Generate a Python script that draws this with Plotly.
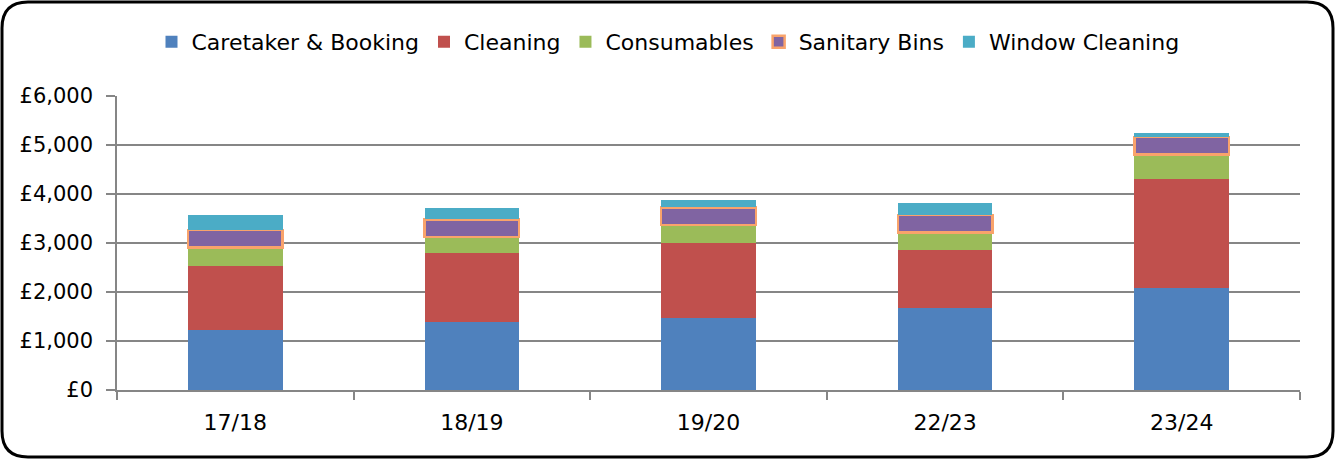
import plotly.graph_objects as go

years = ["17/18", "18/19", "19/20", "22/23", "23/24"]
caretaker = [1230, 1390, 1465, 1675, 2090]
cleaning = [1310, 1415, 1545, 1180, 2215]
consumables = [370, 315, 360, 360, 500]
sanitary = [360, 360, 355, 360, 360]
window = [310, 240, 155, 240, 80]
y_ticks = [0, 1000, 2000, 3000, 4000, 5000, 6000]
y_labels = ["£0", "£1,000", "£2,000", "£3,000", "£4,000", "£5,000", "£6,000"]

series = [
    ("Caretaker & Booking", caretaker, "#4F81BD", None),
    ("Cleaning", cleaning, "#C0504D", None),
    ("Consumables", consumables, "#9BBB59", None),
    ("Sanitary Bins", sanitary, "#8064A2", "#F9A36B"),
    ("Window Cleaning", window, "#4BACC6", None),
]

fig = go.Figure()
for name, vals, col, edge in series:
    fig.add_trace(go.Bar(
        name=name, x=years, y=vals,
        marker=dict(color=col,
                    line=dict(color=edge if edge else col, width=2.5 if edge else 0)),
        width=0.4,
    ))

W, H = 1337, 460
L, R, T, B = 117, 37, 96, 70
pw, ph = W - L - R, H - T - B

def px(x):
    return (x - L) / pw

def py(y):
    return (H - B - y) / ph

x0, y0, x1, y1, r = 2, 2, 1333, 457, 26
path = (
    f"M {px(x0 + r)},{py(y0)} L {px(x1 - r)},{py(y0)} "
    f"Q {px(x1)},{py(y0)} {px(x1)},{py(y0 + r)} "
    f"L {px(x1)},{py(y1 - r)} Q {px(x1)},{py(y1)} {px(x1 - r)},{py(y1)} "
    f"L {px(x0 + r)},{py(y1)} Q {px(x0)},{py(y1)} {px(x0)},{py(y1 - r)} "
    f"L {px(x0)},{py(y0 + r)} Q {px(x0)},{py(y0)} {px(x0 + r)},{py(y0)} Z"
)

fig.update_layout(
    width=W, height=H,
    barmode="stack",
    plot_bgcolor="white", paper_bgcolor="white",
    margin=dict(l=L, r=R, t=T, b=B, autoexpand=False),
    font=dict(family="DejaVu Sans, sans-serif", size=21, color="#000000"),
    legend=dict(orientation="h", x=px(668), xanchor="center", y=py(42), yanchor="middle",
                font=dict(size=22), traceorder="normal", itemwidth=30,
                bgcolor="rgba(0,0,0,0)"),
    xaxis=dict(type="category", showline=True, linecolor="#868686", linewidth=1.5,
               ticks="outside", tickson="boundaries", ticklen=8, tickcolor="#868686",
               tickwidth=1.5, showgrid=False, tickfont=dict(size=22),
               ticklabelstandoff=12),
    yaxis=dict(range=[0, 6000], tickvals=y_ticks, ticktext=y_labels,
               showline=True, linecolor="#868686", linewidth=1.5,
               showgrid=True, gridcolor="#868686", gridwidth=1.5,
               ticks="outside", ticklen=9, tickcolor="#868686", tickwidth=1.5,
               zeroline=False, tickfont=dict(size=21), ticklabelstandoff=9),
    shapes=[dict(type="path", path=path, xref="paper", yref="paper",
                 line=dict(color="black", width=3), fillcolor="rgba(0,0,0,0)",
                 layer="above")],
)

fig.write_html("out.html", config={"displayModeBar": False},
               post_script="document.body.style.margin='0';document.body.style.overflow='hidden';")
